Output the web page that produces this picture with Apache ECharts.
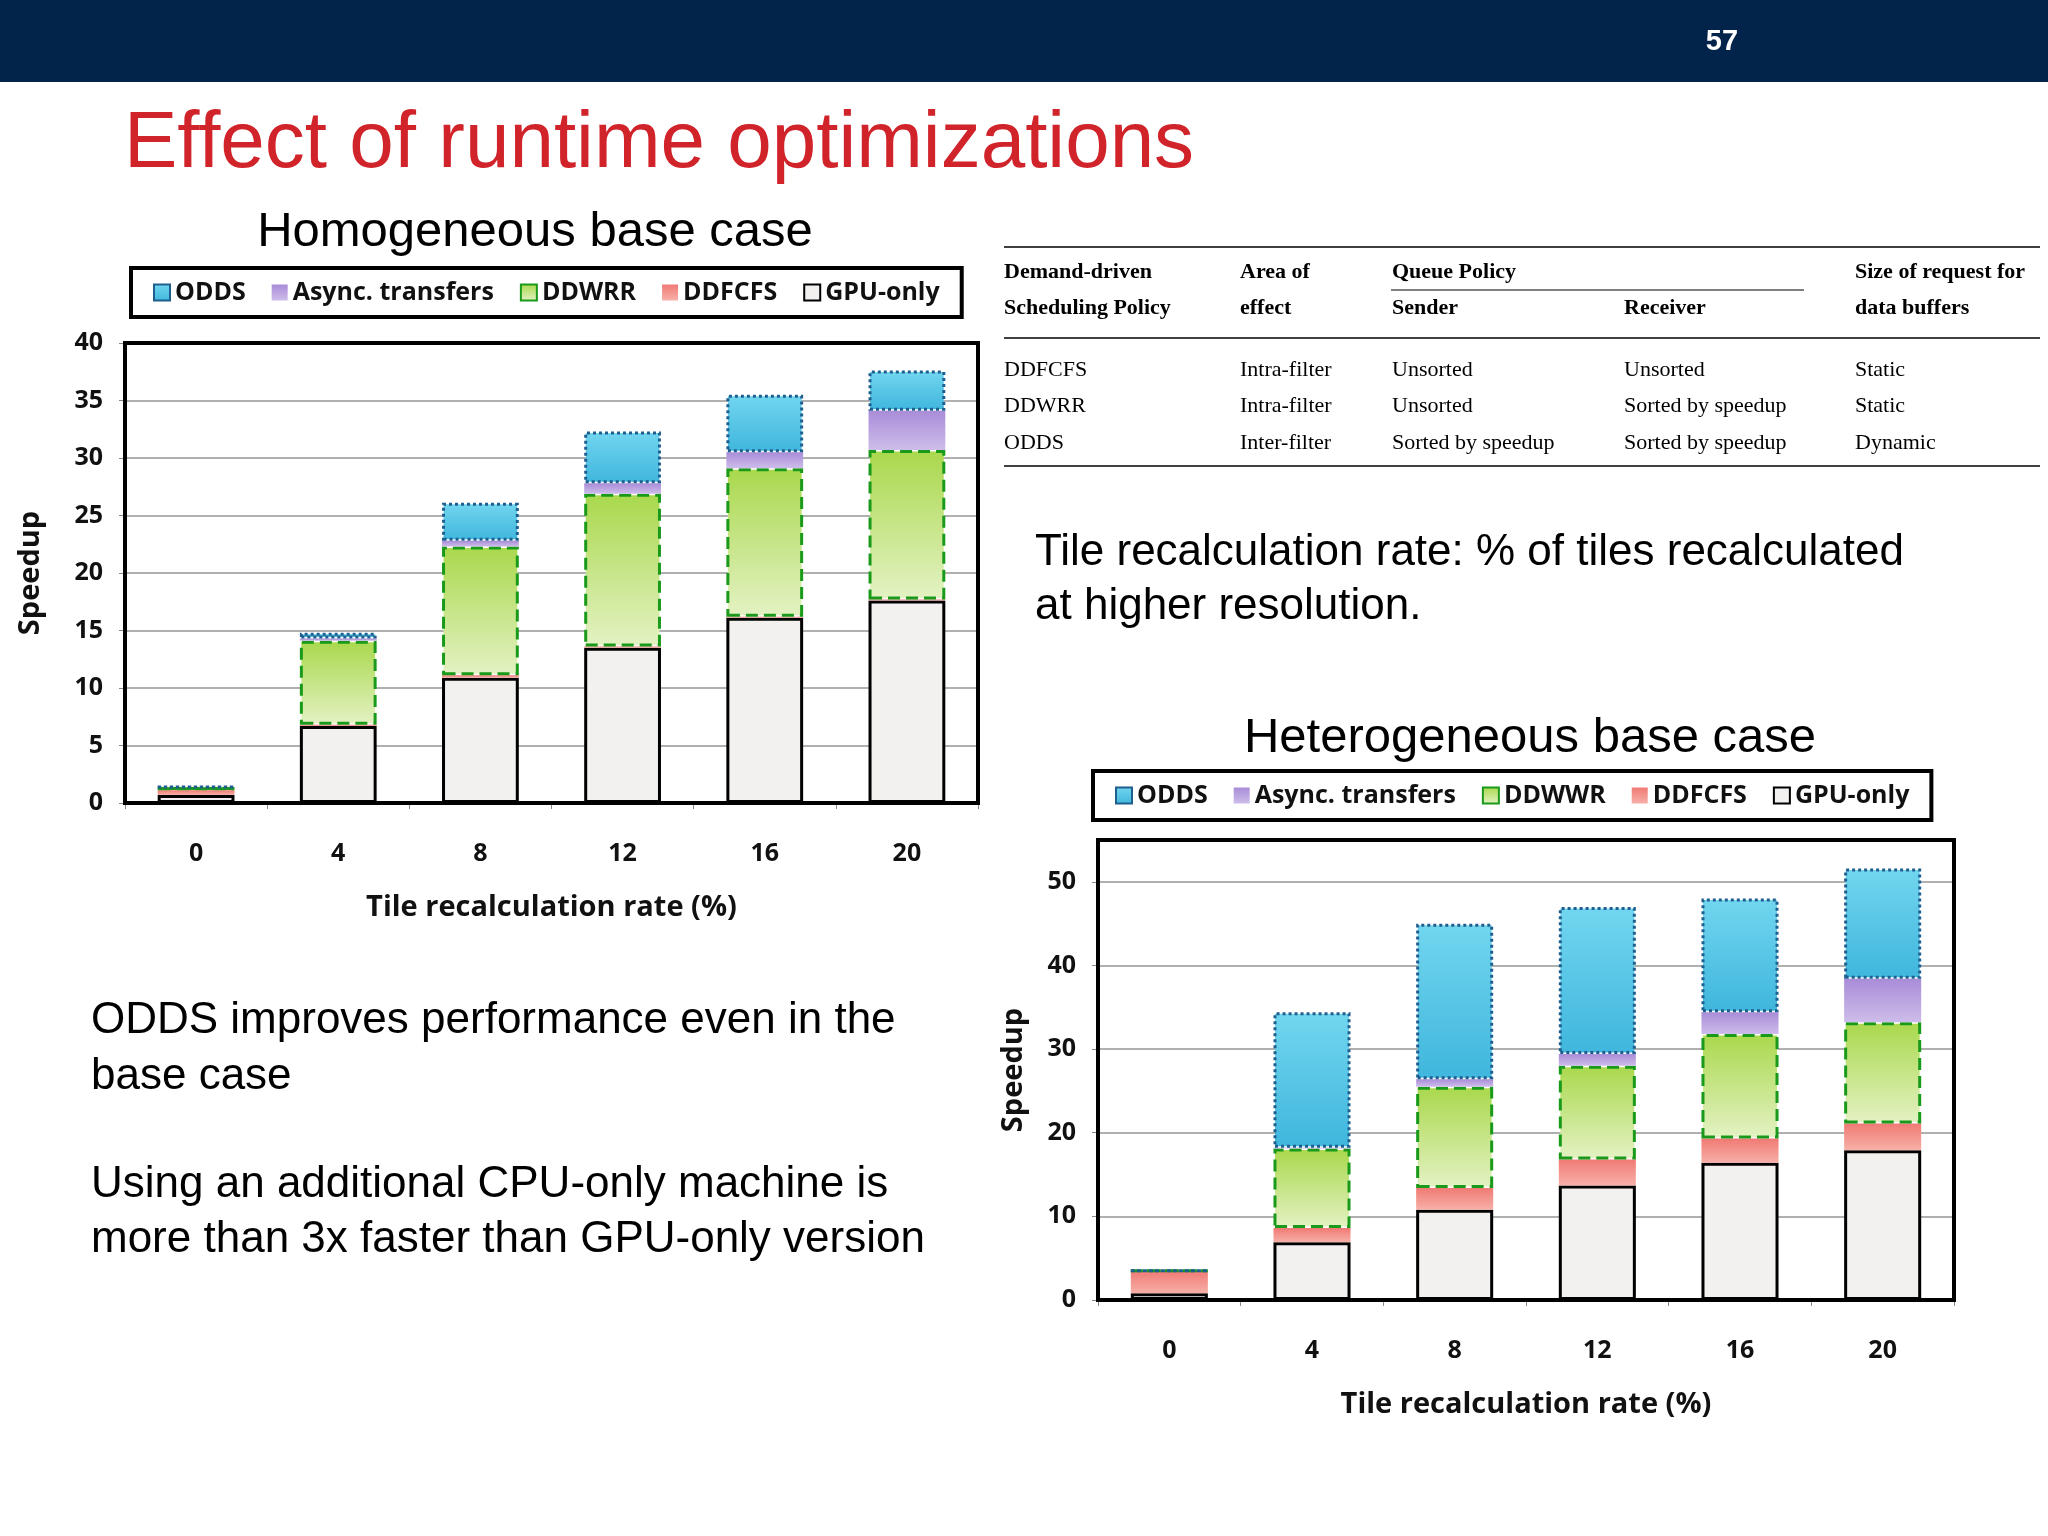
<!DOCTYPE html>
<html>
<head>
<meta charset="utf-8">
<script src="https://cdn.jsdelivr.net/npm/echarts@6/dist/echarts.min.js"></script>
<style>html,body{margin:0;padding:0;background:#fff}#chart{width:2048px;height:1536px}</style>
</head>
<body>
<div id="chart"></div>
<script>
// categories: tile recalculation rate (%)
var rates = ['0', '4', '8', '12', '16', '20'];

// homogeneous base case, stacked increments
var homGpu   = [0.7, 6.7, 10.9, 13.5, 16.1, 17.6];
var homFcfs  = [0.4, 0.1, 0.2, 0.1, 0.1, 0.1];
var homWrr   = [0.3, 7.3, 11.2, 13.3, 12.9, 13.0];
var homAsync = [0, 0.2, 0.5, 0.9, 1.4, 3.4];
var homOdds  = [0, 0.5, 3.3, 4.5, 5.0, 3.5];

// heterogeneous base case, stacked increments
var hetGpu   = [0.8, 6.9, 10.8, 13.7, 16.4, 17.9];
var hetFcfs  = [2.7, 1.7, 2.6, 3.1, 2.9, 3.2];
var hetWwr   = [0, 9.5, 12.1, 11.2, 12.5, 12.1];
var hetAsync = [0, 0.1, 0.9, 1.4, 2.6, 5.2];
var hetOdds  = [0, 16.2, 18.6, 17.6, 13.6, 13.2];

var tableHead = [['Demand-driven', 'Scheduling Policy'], ['Area of', 'effect'], ['Queue Policy', 'Sender'], ['', 'Receiver'], ['Size of request for', 'data buffers']];
var tableRows = [
	['DDFCFS', 'Intra-filter', 'Unsorted', 'Unsorted', 'Static'],
	['DDWRR', 'Intra-filter', 'Unsorted', 'Sorted by speedup', 'Static'],
	['ODDS', 'Inter-filter', 'Sorted by speedup', 'Sorted by speedup', 'Dynamic']
];

var chart = echarts.init(document.getElementById('chart'));
var font = '"Open Sans", sans-serif';

var styles = {
	'GPU-only': {color: '#f3f1ef', borderColor: '#000', borderWidth: 3},
	'DDFCFS': {color: new echarts.graphic.LinearGradient(0, 0, 0, 1, [{offset: 0, color: '#f07a74'}, {offset: 1, color: '#f7b0a8'}])},
	'DDWRR': {color: new echarts.graphic.LinearGradient(0, 0, 0, 1, [{offset: 0, color: '#a9d84c'}, {offset: 1, color: '#e4f2c4'}]), borderColor: '#1a9a1a', borderWidth: 3, borderType: 'dashed'},
	'Async. transfers': {color: new echarts.graphic.LinearGradient(0, 0, 0, 1, [{offset: 0, color: '#a98cd8'}, {offset: 1, color: '#cdbdea'}])},
	'ODDS': {color: new echarts.graphic.LinearGradient(0, 0, 0, 1, [{offset: 0, color: '#72d6ef'}, {offset: 1, color: '#3fb6dd'}]), borderColor: '#1f5f8f', borderWidth: 3, borderType: 'dotted'}
};

function bar(name, style, data, idx) {
	return {
		name: name, type: 'bar', stack: 's' + idx, xAxisIndex: idx, yAxisIndex: idx,
		barWidth: '54%', data: data, itemStyle: style, emphasis: {disabled: true}
	};
}

function xAx(idx) {
	return {
		type: 'category', gridIndex: idx, data: rates,
		name: 'Tile recalculation rate (%)', nameLocation: 'middle', nameGap: 90,
		nameTextStyle: {fontSize: 29, fontWeight: 'bold', color: '#111', fontFamily: font},
		axisLine: {lineStyle: {color: '#444', width: 2}},
		axisTick: {show: true, length: 6, lineStyle: {color: '#888'}},
		axisLabel: {fontSize: 25, fontWeight: 'bold', color: '#111', margin: 38, fontFamily: font}
	};
}

function yAx(idx, max) {
	return {
		type: 'value', gridIndex: idx, min: 0, max: max, interval: idx === 0 ? 5 : 10,
		name: 'Speedup', nameLocation: 'middle', nameGap: idx === 0 ? 80 : 70,
		nameTextStyle: {fontSize: 29, fontWeight: 'bold', color: '#111', fontFamily: font},
		axisLine: {show: true, lineStyle: {color: '#444', width: 2}},
		axisTick: {show: true, length: 6, lineStyle: {color: '#888'}},
		splitLine: {lineStyle: {color: '#b0b0b0', width: 2}},
		axisLabel: {fontSize: 25, fontWeight: 'bold', color: '#111', margin: 22, fontFamily: font, showMaxLabel: idx === 0}
	};
}

function legend(left, top, names) {
	return {
		left: left, top: top, width: 850, itemGap: 26, itemWidth: 16, itemHeight: 16,
		padding: [12, 22], borderColor: '#000', borderWidth: 4, icon: 'rect',
		data: names, selectedMode: false,
		textStyle: {fontSize: 25, fontWeight: 'bold', color: '#111', fontFamily: font}
	};
}

var graphics = [
	{type: 'rect', shape: {x: 0, y: 0, width: 2048, height: 82}, style: {fill: '#02234a'}},
	{type: 'text', x: 1722, y: 42, style: {text: '57', fill: '#fff', font: 'bold 29px "Liberation Sans"', textAlign: 'center', textVerticalAlign: 'middle'}},
	{type: 'text', x: 124, y: 145, style: {text: 'Effect of runtime optimizations', fill: '#d1232a', font: '80px "Liberation Sans"', textVerticalAlign: 'middle'}},
	{type: 'text', x: 535, y: 232, style: {text: 'Homogeneous base case', fill: '#000', font: '49px "Liberation Sans"', textAlign: 'center', textVerticalAlign: 'middle'}},
	{type: 'text', x: 1530, y: 738, style: {text: 'Heterogeneous base case', fill: '#000', font: '49px "Liberation Sans"', textAlign: 'center', textVerticalAlign: 'middle'}},
	{type: 'text', x: 1035, y: 553, style: {text: 'Tile recalculation rate: % of tiles recalculated', fill: '#000', font: '44px "Liberation Sans"', textVerticalAlign: 'middle'}},
	{type: 'text', x: 1035, y: 607, style: {text: 'at higher resolution.', fill: '#000', font: '44px "Liberation Sans"', textVerticalAlign: 'middle'}},
	{type: 'text', x: 91, y: 1021, style: {text: 'ODDS improves performance even in the', fill: '#000', font: '44px "Liberation Sans"', textVerticalAlign: 'middle'}},
	{type: 'text', x: 91, y: 1077, style: {text: 'base case', fill: '#000', font: '44px "Liberation Sans"', textVerticalAlign: 'middle'}},
	{type: 'text', x: 91, y: 1185, style: {text: 'Using an additional CPU-only machine is', fill: '#000', font: '44px "Liberation Sans"', textVerticalAlign: 'middle'}},
	{type: 'text', x: 91, y: 1240, style: {text: 'more than 3x faster than GPU-only version', fill: '#000', font: '44px "Liberation Sans"', textVerticalAlign: 'middle'}},
	// frames around the plot areas
	{type: 'rect', shape: {x: 125, y: 343, width: 853, height: 460}, style: {fill: null, stroke: '#000', lineWidth: 4}, z: 10},
	{type: 'rect', shape: {x: 1098, y: 840, width: 856, height: 460}, style: {fill: null, stroke: '#000', lineWidth: 4}, z: 10},
	// table rules
	{type: 'line', shape: {x1: 1004, y1: 247, x2: 2040, y2: 247}, style: {stroke: '#000', lineWidth: 1.5}},
	{type: 'line', shape: {x1: 1391, y1: 290, x2: 1804, y2: 290}, style: {stroke: '#000', lineWidth: 1}},
	{type: 'line', shape: {x1: 1004, y1: 338, x2: 2040, y2: 338}, style: {stroke: '#000', lineWidth: 1.5}},
	{type: 'line', shape: {x1: 1004, y1: 466, x2: 2040, y2: 466}, style: {stroke: '#000', lineWidth: 1.5}}
];

var colX = [1004, 1240, 1392, 1624, 1855];
tableHead.forEach(function (h, c) {
	[272, 308].forEach(function (y, r) {
		graphics.push({type: 'text', x: colX[c], y: y, style: {text: h[r], fill: '#000', font: 'bold 22px "Liberation Serif"', textVerticalAlign: 'middle'}});
	});
});
tableRows.forEach(function (row, r) {
	row.forEach(function (cell, c) {
		graphics.push({type: 'text', x: colX[c], y: 370 + r * 36.5, style: {text: cell, fill: '#000', font: '22px "Liberation Serif"', textVerticalAlign: 'middle'}});
	});
});

var option = {
	animation: false,
	backgroundColor: '#fff',
	graphic: graphics,
	legend: [
		legend(131, 268, ['ODDS', 'Async. transfers', 'DDWRR', 'DDFCFS', 'GPU-only']),
		legend(1093, 771, ['ODDS', 'Async. transfers', 'DDWWR', 'DDFCFS', 'GPU-only'])
	],
	grid: [
		{left: 125, top: 343, width: 853, height: 460},
		{left: 1098, top: 840, width: 856, height: 460}
	],
	xAxis: [xAx(0), xAx(1)],
	yAxis: [yAx(0, 40), yAx(1, 55)],
	series: [
		bar('GPU-only', styles['GPU-only'], homGpu, 0),
		bar('DDFCFS', styles['DDFCFS'], homFcfs, 0),
		bar('DDWRR', styles['DDWRR'], homWrr, 0),
		bar('Async. transfers', styles['Async. transfers'], homAsync, 0),
		bar('ODDS', styles['ODDS'], homOdds, 0),
		bar('GPU-only', styles['GPU-only'], hetGpu, 1),
		bar('DDFCFS', styles['DDFCFS'], hetFcfs, 1),
		bar('DDWWR', styles['DDWRR'], hetWwr, 1),
		bar('Async. transfers', styles['Async. transfers'], hetAsync, 1),
		bar('ODDS', styles['ODDS'], hetOdds, 1)
	]
};

chart.setOption(option);
</script>
</body>
</html>
